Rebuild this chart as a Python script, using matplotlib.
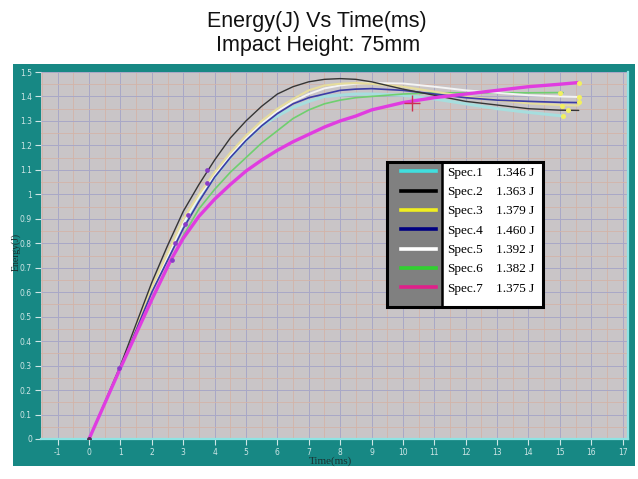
import numpy as np
import matplotlib
matplotlib.use("Agg")
import matplotlib.pyplot as plt
from matplotlib.patches import Rectangle
from matplotlib.lines import Line2D

# ---------------- data ----------------
spec_names = ["Spec.1", "Spec.2", "Spec.3", "Spec.4", "Spec.5", "Spec.6", "Spec.7"]
spec_values = ["1.346 J", "1.363 J", "1.379 J", "1.460 J", "1.392 J", "1.382 J", "1.375 J"]

t_spec1 = [0, 1, 2, 3, 3.5, 4, 4.5, 5, 5.5, 6, 6.5, 7, 7.5, 8, 8.5, 9, 10, 11, 12, 13, 14, 15.1]
e_spec1 = [0, 0.29, 0.61, 0.87, 0.98, 1.07, 1.15, 1.22, 1.28, 1.32, 1.355, 1.38, 1.40, 1.405, 1.41, 1.41, 1.405, 1.39, 1.37, 1.35, 1.335, 1.32]

t_spec2 = [0, 0.5, 1, 1.5, 2, 2.5, 3, 3.5, 4, 4.5, 5, 5.5, 6, 6.5, 7, 7.5, 8, 8.5, 9, 10, 11, 12, 13, 14, 15, 15.6]
e_spec2 = [0, 0.15, 0.30, 0.47, 0.64, 0.79, 0.93, 1.04, 1.14, 1.23, 1.30, 1.36, 1.41, 1.44, 1.46, 1.47, 1.473, 1.47, 1.46, 1.43, 1.405, 1.38, 1.365, 1.35, 1.344, 1.343]

t_spec3 = [0, 1, 2, 3, 3.5, 4, 4.5, 5, 5.5, 6, 6.5, 7, 7.5, 8, 8.5, 9, 10, 11, 12, 13, 14, 15, 15.6]
e_spec3 = [0, 0.29, 0.62, 0.90, 1.00, 1.09, 1.17, 1.24, 1.30, 1.35, 1.39, 1.425, 1.445, 1.452, 1.455, 1.452, 1.44, 1.42, 1.40, 1.385, 1.372, 1.365, 1.363]

t_spec4 = [0, 1, 2, 3, 3.5, 4, 4.5, 5, 5.5, 6, 6.5, 7, 7.5, 8, 8.5, 9, 10, 11, 12, 13, 14, 15, 15.6]
e_spec4 = [0, 0.29, 0.60, 0.86, 0.97, 1.07, 1.15, 1.22, 1.28, 1.33, 1.37, 1.395, 1.41, 1.425, 1.43, 1.432, 1.425, 1.41, 1.395, 1.385, 1.38, 1.376, 1.375]

t_spec5 = [0, 1, 2, 3, 3.5, 4, 4.5, 5, 5.5, 6, 6.5, 7, 7.5, 8, 8.5, 9, 10, 11, 12, 13, 14, 15, 15.6]
e_spec5 = [0, 0.29, 0.61, 0.88, 0.99, 1.08, 1.16, 1.23, 1.29, 1.34, 1.38, 1.41, 1.433, 1.445, 1.452, 1.455, 1.453, 1.44, 1.425, 1.415, 1.405, 1.40, 1.398]

t_spec6 = [0, 1, 2, 3, 3.5, 4, 4.5, 5, 5.5, 6, 6.5, 7, 7.5, 8, 8.5, 9, 10, 11, 12, 13, 14, 15.1]
e_spec6 = [0, 0.29, 0.57, 0.83, 0.94, 1.02, 1.09, 1.15, 1.21, 1.26, 1.31, 1.345, 1.37, 1.385, 1.395, 1.40, 1.41, 1.415, 1.415, 1.415, 1.415, 1.416]

t_spec7 = [0, 1, 2, 2.6, 3, 3.5, 4, 4.5, 5, 5.5, 6, 6.5, 7, 7.5, 8, 8.5, 9, 10, 11, 12, 13, 14, 15, 15.6]
e_spec7 = [0, 0.29, 0.57, 0.73, 0.82, 0.91, 0.98, 1.04, 1.095, 1.14, 1.18, 1.215, 1.245, 1.275, 1.30, 1.32, 1.345, 1.375, 1.395, 1.41, 1.425, 1.44, 1.45, 1.457]

# small marker points
mark_t = [0.95, 2.64, 2.74, 3.06, 3.15, 3.76, 3.76]
mark_e = [0.29, 0.73, 0.80, 0.88, 0.914, 1.045, 1.10]
end_t = [15.6, 15.0, 15.6, 15.6, 15.06, 15.25, 15.1]
end_e = [1.457, 1.416, 1.398, 1.378, 1.363, 1.343, 1.32]
cross_t = [10.3]
cross_e = [1.375]

x_ticks = list(range(-1, 18))
y_ticks = [0, 0.1, 0.2, 0.3, 0.4, 0.5, 0.6, 0.7, 0.8, 0.9, 1.0, 1.1, 1.2, 1.3, 1.4, 1.5]
y_tick_labels = ["0", "0.1", "0.2", "0.3", "0.4", "0.5", "0.6", "0.7", "0.8", "0.9", "1",
                 "1.1", "1.2", "1.3", "1.4", "1.5"]

# ---------------- figure ----------------
W, H = 638, 479
fig = plt.figure(figsize=(W / 100, H / 100), dpi=100)
fig.patch.set_facecolor("white")

# teal frame (its own background axes)
bg = fig.add_axes([13 / W, 1 - 466 / H, (635 - 13) / W, (466 - 64) / H], zorder=-5)
bg.set_facecolor("#178884")
bg.set_xticks([])
bg.set_yticks([])
for s in bg.spines.values():
    s.set_visible(False)

title_font = ["Liberation Sans", "DejaVu Sans"]
fig.text(317 / W, 1 - 21 / H, "Energy(J) Vs Time(ms)", ha="center", va="center",
         fontsize=15.5, family=title_font, color="#111111")
fig.text(318 / W, 1 - 46 / H, "Impact Height: 75mm", ha="center", va="center",
         fontsize=15.5, family=title_font, color="#111111")

ax = fig.add_axes([41 / W, 1 - 439 / H, 587 / W, 367 / H], zorder=1)
ax.set_facecolor("#c9c5c7")
ax.set_xlim(-1.53, 17.17)
ax.set_ylim(0, 1.5)
ax.set_xticks(x_ticks)
ax.set_xticklabels([str(v) for v in x_ticks])
ax.set_yticks(y_ticks)
ax.set_yticklabels(y_tick_labels)
ax.set_xticks(np.arange(-1.5, 17.01, 0.5), minor=True)
ax.set_yticks(np.arange(0, 1.501, 0.05), minor=True)
ax.grid(which="minor", color="#d3b4a8", lw=0.6, zorder=0)
ax.grid(which="major", color="#a8a8c6", lw=0.7, zorder=0)
ax.set_axisbelow(True)
ax.tick_params(which="minor", length=0)
ax.tick_params(which="major", colors="#cfe6e6", labelsize=5.5, length=4, width=0.8,
               direction="out", pad=2.5)
for s in ["left", "top"]:
    ax.spines[s].set_visible(False)
for s in ["bottom", "right"]:
    ax.spines[s].set_color("#8fe4e4")
    ax.spines[s].set_linewidth(1.6)

series = [
    (t_spec1, e_spec1, "#a6dede", 2.2),
    (t_spec6, e_spec6, "#6fcf6f", 1.2),
    (t_spec5, e_spec5, "#f4f4f4", 1.4),
    (t_spec3, e_spec3, "#e6dd9c", 1.5),
    (t_spec4, e_spec4, "#3c3ca6", 1.2),
    (t_spec2, e_spec2, "#353535", 1.0),
    (t_spec7, e_spec7, "#e03ce0", 2.4),
]
for tt, ee, c, lw in series:
    ax.plot(tt, ee, color=c, lw=lw, solid_capstyle="round", zorder=3)

ax.plot(mark_t, mark_e, ls="none", marker="o", ms=2.4, color="#8a3cc8", zorder=4)
ax.plot(end_t, end_e, ls="none", marker="o", ms=2.6, color="#f2f060", zorder=4)
ax.plot(cross_t, cross_e, ls="none", marker="+", ms=11, mew=1.0, color="#cc3050", zorder=5)
ax.plot([0], [0], ls="none", marker="o", ms=2.5, color="#503050", zorder=5)

fig.text(16 / W, 1 - 252 / H, "Energy(J)", rotation=90, ha="center", va="center",
         fontsize=7, family=["Liberation Serif", "DejaVu Serif"], color="#1a2a2a")
fig.text(330 / W, 1 - 461 / H, "Time(ms)", ha="center", va="center",
         fontsize=8, family=["Liberation Serif", "DejaVu Serif"], color="#1a3030")

# ---------------- legend panel ----------------
lax = fig.add_axes([387 / W, 1 - 307 / H, 156 / W, 145 / H], zorder=3)
lax.set_xlim(0, 1)
lax.set_ylim(0, 1)
lax.axis("off")
lax.add_patch(Rectangle((0, 0), 1, 1, facecolor="white", edgecolor="none", zorder=1))
lax.add_patch(Rectangle((0, 0), 0.353, 1, facecolor="#808080", edgecolor="none", zorder=2))
lax.add_patch(Rectangle((0, 0), 1, 1, facecolor="none", edgecolor="black", lw=2.2, zorder=5,
                        clip_on=False))
lax.add_line(Line2D([0.353, 0.353], [0, 1], color="black", lw=1.8, zorder=5))
legend_colors = ["#40dede", "#000000", "#f0ee20", "#000080", "#ffffff", "#30d030", "#e0208a"]
for i, (nm, val, c) in enumerate(zip(spec_names, spec_values, legend_colors)):
    y = 0.935 - i * 0.133
    lax.add_line(Line2D([0.09, 0.314], [y, y], color=c, lw=2.6, zorder=3))
    lax.text(0.385, y - 0.01, nm, ha="left", va="center", fontsize=9.5,
             family=["Liberation Serif", "DejaVu Serif"], color="black", zorder=4)
    lax.text(0.945, y - 0.01, val, ha="right", va="center", fontsize=9.5,
             family=["Liberation Serif", "DejaVu Serif"], color="black", zorder=4)

fig.savefig("out.png", dpi=100)
